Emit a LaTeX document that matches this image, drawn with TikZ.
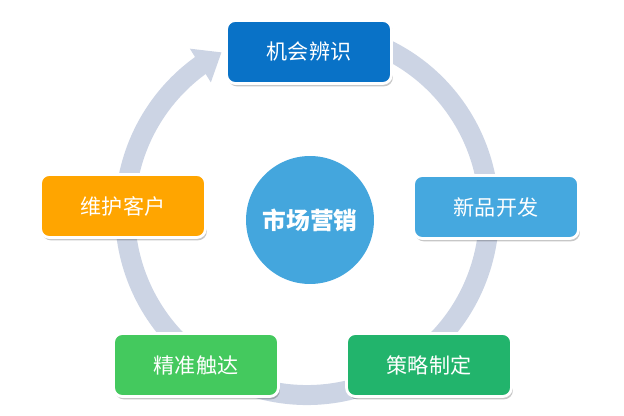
\documentclass[tikz,border=0pt]{standalone}
\usepackage{fontspec}
\newfontfamily\cjk{Noto Sans CJK SC}
\usetikzlibrary{arrows.meta,bending,shadows}

\definecolor{ringgray}{RGB}{204,212,228}
\definecolor{darkblue}{RGB}{9,114,199}
\definecolor{lightblue}{RGB}{69,168,223}
\definecolor{midblue}{RGB}{68,166,221}
\definecolor{orangebox}{RGB}{255,165,0}
\definecolor{lightgreen}{RGB}{68,201,94}
\definecolor{darkgreen}{RGB}{34,180,108}

\begin{document}
\begin{tikzpicture}[
        x=0.02cm, y=0.02cm,
        font=\cjk,
        step box/.style={rectangle, rounded corners=5pt, minimum width=3.3cm, minimum height=1.26cm,
            draw=white, line width=1.6pt, text=white, font=\cjk\fontsize{12}{14}\selectfont,
            drop shadow={shadow xshift=0.8pt, shadow yshift=-1.6pt, fill=black, opacity=0.22}},
        hub circle/.style={circle, minimum size=2.56cm, fill=midblue, text=white,
            font=\cjk\fontsize{13.5}{16}\selectfont\bfseries},
    ]
    \useasboundingbox (0,0) rectangle (624,415);

    % Ring with arrow (behind everything)
    \coordinate (ring-c) at (307,202);
    \draw[ringgray, line width=0.4cm, -{Triangle[length=0.5cm, width=0.76cm, flex]}]
        ([shift={(70:182)}]ring-c) arc[start angle=70, end angle=-242, radius=182];

    % Centre
    \node[hub circle] (hub) at (310,195) {市场营销};

    % Five steps round the ring
    \foreach \name/\px/\py/\col/\txt in {
            find/309/363/darkblue/机会辨识,
            product/496/208/lightblue/新品开发,
            plan/429/50/darkgreen/策略制定,
            reach/196/50/lightgreen/精准触达,
            keep/123/209/orangebox/维护客户} {
        \node[step box, fill=\col] (box-\name) at (\px,\py) {\txt};
    }

\end{tikzpicture}
\end{document}
